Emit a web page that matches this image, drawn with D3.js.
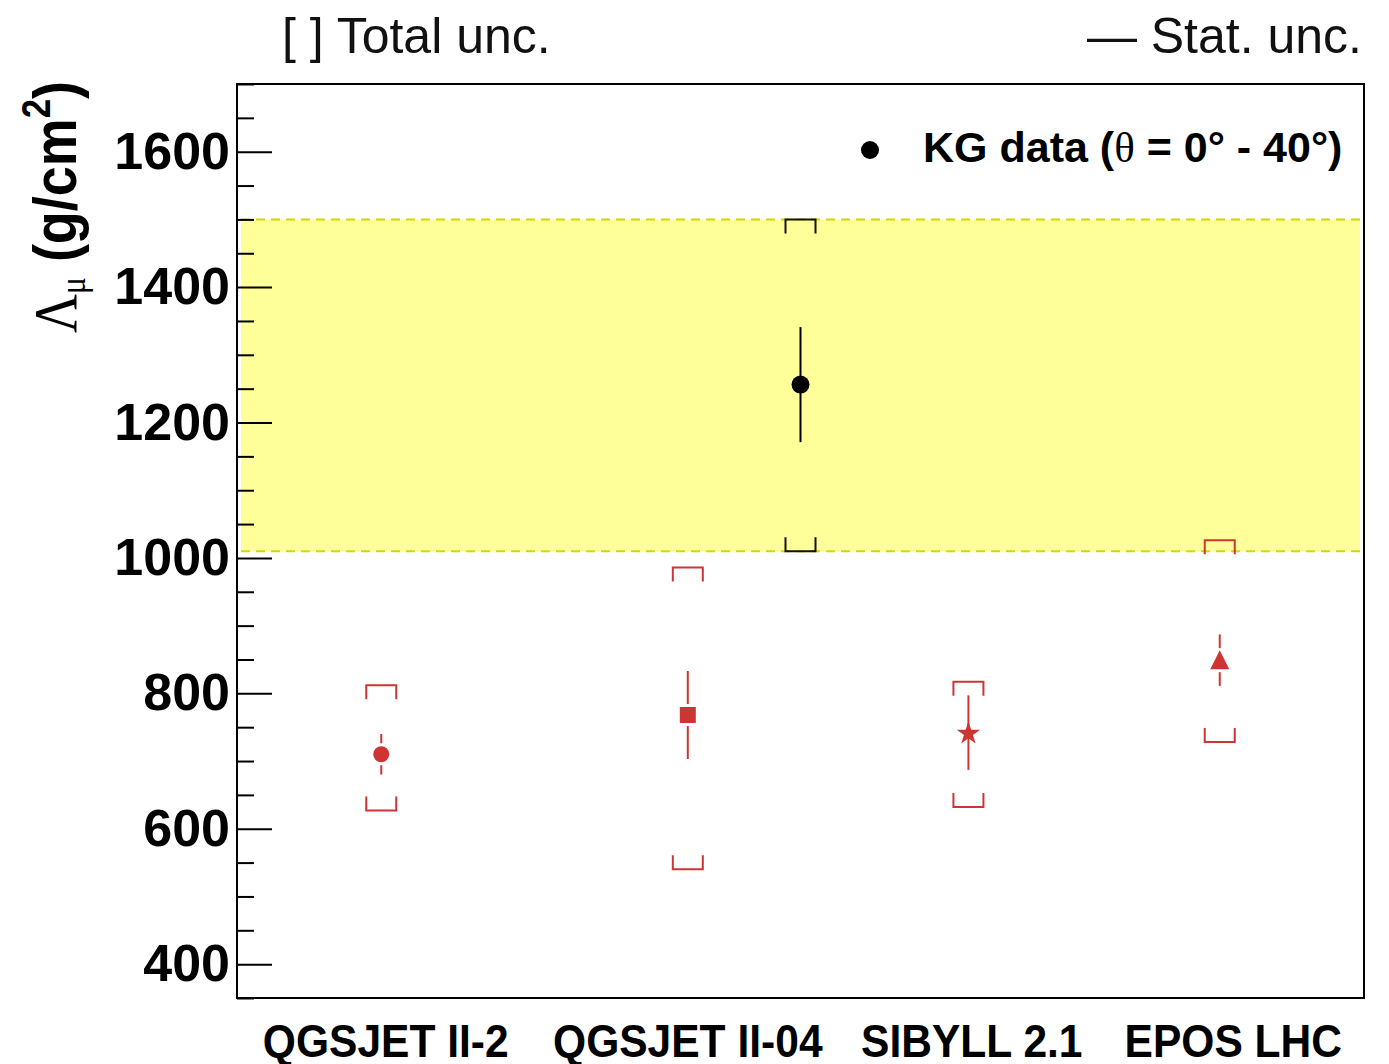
<!DOCTYPE html>
<html>
<head>
<meta charset="utf-8">
<script src="https://cdn.jsdelivr.net/npm/d3@7"></script>
<style>
  body { margin: 0; background: #fff; }
  svg { display: block; }
</style>
</head>
<body>
<script>
// model predictions
const models = ["QGSJET II-2", "QGSJET II-04", "SIBYLL 2.1", "EPOS LHC"];
const modelPos = [12.8, 40.0, 64.9, 87.2];      // x position on a 0-100 axis
const modelLabelPos = [13.2, 40.0, 65.2, 88.4];
const modelValue = [710, 768, 742, 849];
const modelStat = [30, 65, 55, 38];
const modelTotLow = [627, 540, 632, 728];
const modelTotHigh = [812, 986, 817, 1026];
const modelMarker = ["circle", "square", "star", "triangle"];

// KG measurement
const kgPos = 50;
const kgValue = 1256;
const kgStat = 85;
const kgTotLow = 1010;
const kgTotHigh = 1500;

const majorTicks = [400, 600, 800, 1000, 1200, 1400, 1600];
const minorTicks = d3.range(350, 1701, 50).filter(v => !majorTicks.includes(v));

const width = 1389, height = 1064;
const red = "#cf3434";

const svg = d3.select("body").append("svg")
  .attr("width", width)
  .attr("height", height);

const x = d3.scaleLinear().domain([0, 100]).range([237, 1364]);
const y = d3.scaleLinear().domain([350, 1700]).range([998, 84]);

// yellow band = KG total uncertainty
const band = svg.append("g");
band.append("rect")
  .attr("x", x(0) + 4)
  .attr("width", x(100) - x(0) - 8)
  .attr("y", y(kgTotHigh))
  .attr("height", y(kgTotLow) - y(kgTotHigh))
  .attr("fill", "#ffff99");
[kgTotHigh, kgTotLow].forEach(v => {
  band.append("line")
    .attr("x1", x(0) + 4).attr("x2", x(100) - 4)
    .attr("y1", y(v)).attr("y2", y(v))
    .attr("stroke", "#d6d600")
    .attr("stroke-width", 2)
    .attr("stroke-dasharray", "9,6");
});

// total uncertainty brackets
function bracket(g, cx, lo, hi, color) {
  const hw = 15, leg = 14;
  const yh = y(hi), yl = y(lo);
  g.append("path")
    .attr("d", `M${cx - hw},${yh + leg}V${yh}H${cx + hw}V${yh + leg}`)
    .attr("fill", "none").attr("stroke", color).attr("stroke-width", 2);
  g.append("path")
    .attr("d", `M${cx - hw},${yl - leg}V${yl}H${cx + hw}V${yl - leg}`)
    .attr("fill", "none").attr("stroke", color).attr("stroke-width", 2);
}

// stat error line with optional gap around the marker
function statLine(g, cx, v, err, gap, color) {
  const cy = y(v);
  const top = y(v + err), bot = y(v - err);
  if (gap > 0) {
    g.append("line").attr("x1", cx).attr("x2", cx).attr("y1", top).attr("y2", cy - gap)
      .attr("stroke", color).attr("stroke-width", 2);
    g.append("line").attr("x1", cx).attr("x2", cx).attr("y1", cy + gap).attr("y2", bot)
      .attr("stroke", color).attr("stroke-width", 2);
  } else {
    g.append("line").attr("x1", cx).attr("x2", cx).attr("y1", top).attr("y2", bot)
      .attr("stroke", color).attr("stroke-width", 2);
  }
}

function marker(g, type, cx, cy, color) {
  if (type === "circle") {
    g.append("circle").attr("cx", cx).attr("cy", cy).attr("r", 8).attr("fill", color);
  } else if (type === "square") {
    g.append("rect").attr("x", cx - 8).attr("y", cy - 8).attr("width", 16).attr("height", 16).attr("fill", color);
  } else if (type === "triangle") {
    g.append("path").attr("d", `M${cx},${cy - 10}L${cx + 9.5},${cy + 9}L${cx - 9.5},${cy + 9}Z`).attr("fill", color);
  } else if (type === "star") {
    g.append("path")
      .attr("d", d3.symbol(d3.symbolStar, 170)())
      .attr("transform", `translate(${cx},${cy + 1})`)
      .attr("fill", color);
  }
}

const gapOf = { circle: 11, square: 11, triangle: 12, star: 0 };

const pts = svg.append("g");
models.forEach((m, i) => {
  const cx = x(modelPos[i]);
  bracket(pts, cx, modelTotLow[i], modelTotHigh[i], red);
  statLine(pts, cx, modelValue[i], modelStat[i], gapOf[modelMarker[i]], red);
  marker(pts, modelMarker[i], cx, y(modelValue[i]), red);
});

// KG data point
bracket(pts, x(kgPos), kgTotLow, kgTotHigh, "#111");
statLine(pts, x(kgPos), kgValue, kgStat, 0, "#000");
pts.append("circle").attr("cx", x(kgPos)).attr("cy", y(kgValue)).attr("r", 9).attr("fill", "#000");

// y axis
const yAxis = svg.append("g")
  .attr("transform", `translate(${x(0)},0)`)
  .call(d3.axisLeft(y).tickValues(majorTicks).tickSize(-35).tickPadding(7).tickFormat(d3.format("d")));
yAxis.select(".domain").remove();
yAxis.selectAll(".tick line").attr("stroke", "#000").attr("stroke-width", 2);
yAxis.selectAll(".tick text")
  .attr("font-family", "Liberation Sans, Arial, sans-serif")
  .attr("font-weight", "bold")
  .attr("font-size", 52)
  .attr("fill", "#000");

const yMinor = svg.append("g")
  .attr("transform", `translate(${x(0)},0)`)
  .call(d3.axisLeft(y).tickValues(minorTicks).tickSize(-17).tickFormat(""));
yMinor.select(".domain").remove();
yMinor.selectAll(".tick line").attr("stroke", "#000").attr("stroke-width", 2);

// frame
svg.append("rect")
  .attr("x", x(0)).attr("y", y(1700))
  .attr("width", x(100) - x(0)).attr("height", y(350) - y(1700))
  .attr("fill", "none").attr("stroke", "#000").attr("stroke-width", 2);

// x category labels
svg.append("g").selectAll("text")
  .data(models)
  .join("text")
  .attr("transform", (d, i) => `translate(${x(modelLabelPos[i])},1057) scale(0.925,1)`)
  .attr("text-anchor", "middle")
  .attr("font-family", "Liberation Sans, Arial, sans-serif")
  .attr("font-weight", "bold")
  .attr("font-size", 46)
  .text(d => d);

// y axis title
const yt = svg.append("text")
  .attr("transform", "translate(76,333) rotate(-90) scale(0.87,1)")
  .attr("fill", "#000");
yt.append("tspan")
  .attr("font-family", "Liberation Serif, Times New Roman, serif")
  .attr("font-size", 62)
  .text("Λ");
yt.append("tspan")
  .attr("font-family", "Liberation Serif, Times New Roman, serif")
  .attr("font-size", 36)
  .attr("dy", 9)
  .text("μ");
yt.append("tspan")
  .attr("font-family", "Liberation Sans, Arial, sans-serif")
  .attr("font-weight", "bold")
  .attr("font-size", 62)
  .attr("dy", -9)
  .text(" (g/cm");
yt.append("tspan")
  .attr("font-family", "Liberation Sans, Arial, sans-serif")
  .attr("font-weight", "bold")
  .attr("font-size", 40)
  .attr("dy", -26)
  .text("2");
yt.append("tspan")
  .attr("font-family", "Liberation Sans, Arial, sans-serif")
  .attr("font-weight", "bold")
  .attr("font-size", 62)
  .attr("dy", 26)
  .text(")");

// legend inside frame
svg.append("circle").attr("cx", 870).attr("cy", 150).attr("r", 9).attr("fill", "#000");
const lg = svg.append("text")
  .attr("x", 923).attr("y", 162)
  .attr("font-family", "Liberation Sans, Arial, sans-serif")
  .attr("font-weight", "bold")
  .attr("font-size", 43)
  .attr("fill", "#000");
lg.append("tspan").text("KG data (");
lg.append("tspan")
  .attr("font-family", "Liberation Serif, Times New Roman, serif")
  .attr("font-weight", "normal")
  .text("θ");
lg.append("tspan").text(" = 0° - 40°)");

// uncertainty key above the frame
svg.append("text")
  .attr("x", 282).attr("y", 53)
  .attr("font-family", "Liberation Sans, Arial, sans-serif")
  .attr("font-size", 50)
  .attr("fill", "#111")
  .text("[ ] Total unc.");
svg.append("text")
  .attr("x", 1362).attr("y", 53)
  .attr("text-anchor", "end")
  .attr("font-family", "Liberation Sans, Arial, sans-serif")
  .attr("font-size", 50)
  .attr("fill", "#111")
  .text("— Stat. unc.");
</script>
</body>
</html>
